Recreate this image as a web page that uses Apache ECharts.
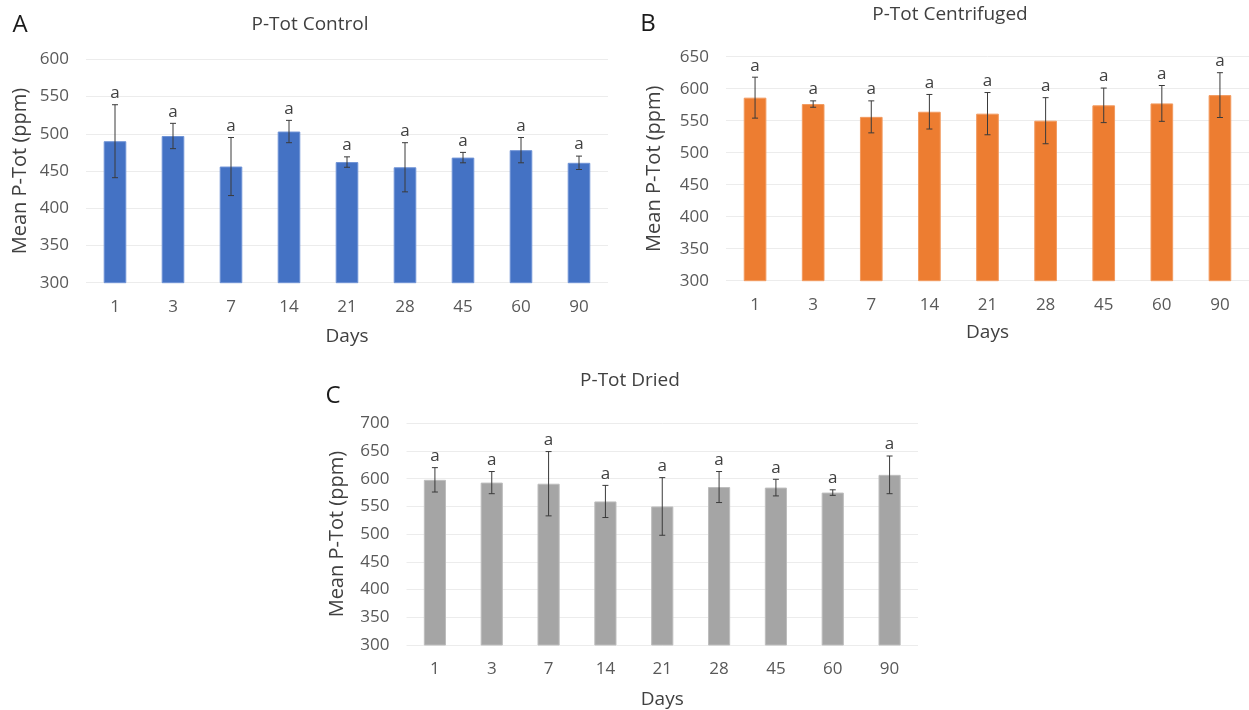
<!DOCTYPE html>
<html>
<head>
<meta charset="utf-8">
<script src="https://cdn.jsdelivr.net/npm/echarts@6/dist/echarts.min.js"></script>
<style>
  html, body { margin: 0; padding: 0; background: #ffffff; }
  #chart { width: 1249px; height: 710px; }
</style>
</head>
<body>
<div id="chart"></div>
<script>
// Sampling days (x categories shared by all three panels)
const days = ['1', '3', '7', '14', '21', '28', '45', '60', '90'];

// Panel A: P-Tot Control (mean and error, ppm)
const controlMean = [490, 497, 456, 503, 462, 455, 468, 478, 461];
const controlErr  = [49, 17, 39, 15, 7, 33, 7, 17, 9];
const controlLetters = ['a', 'a', 'a', 'a', 'a', 'a', 'a', 'a', 'a'];

// Panel B: P-Tot Centrifuged
const centrifugedMean = [586, 576, 556, 564, 561, 550, 574, 577, 590];
const centrifugedErr  = [32, 5, 25, 27, 33, 36, 27, 28, 35];
const centrifugedLetters = ['a', 'a', 'a', 'a', 'a', 'a', 'a', 'a', 'a'];

// Panel C: P-Tot Dried
const driedMean = [598, 593, 591, 559, 550, 585, 584, 575, 607];
const driedErr  = [22, 20, 58, 29, 52, 28, 15, 5, 34];
const driedLetters = ['a', 'a', 'a', 'a', 'a', 'a', 'a', 'a', 'a'];

// Y-axis ranges per panel
const yRanges = [[300, 600], [300, 650], [300, 700]];
const yStep = 50;

const FONT = '"Open Sans", "Noto Sans", sans-serif';
const TICK_COLOR = '#595959';
const NAME_COLOR = '#404040';

const panels = [
  { title: 'P-Tot Control', letter: 'A', mean: controlMean, err: controlErr, letters: controlLetters,
    color: '#4472C4', border: '#6f93d6',
    grid: { left: 86, top: 59.3, width: 522, height: 223.4 }, yNameGap: 56, xNameGap: 44,
    titlePos: [310, 25], letterPos: [20, 25] },
  { title: 'P-Tot Centrifuged', letter: 'B', mean: centrifugedMean, err: centrifugedErr, letters: centrifugedLetters,
    color: '#ED7D31', border: '#f29a5f',
    grid: { left: 726, top: 56.7, width: 525, height: 224 }, yNameGap: 62, xNameGap: 42,
    titlePos: [950, 15], letterPos: [648, 24] },
  { title: 'P-Tot Dried', letter: 'C', mean: driedMean, err: driedErr, letters: driedLetters,
    color: '#A5A5A5', border: '#bdbdbd',
    grid: { left: 406.5, top: 423.3, width: 511.5, height: 223.4 }, yNameGap: 59, xNameGap: 45,
    titlePos: [630, 381], letterPos: [333, 396] }
];

const grids = [], xAxes = [], yAxes = [], series = [], graphics = [];

panels.forEach((p, i) => {
  grids.push(Object.assign({ containLabel: false }, p.grid));

  xAxes.push({
    type: 'category', gridIndex: i, data: days,
    name: 'Days', nameLocation: 'middle', nameGap: p.xNameGap,
    nameTextStyle: { fontFamily: FONT, fontSize: 19, color: NAME_COLOR },
    axisLine: { show: false }, axisTick: { show: false },
    axisLabel: { fontFamily: FONT, fontSize: 17, color: TICK_COLOR, margin: 16 }
  });

  yAxes.push({
    type: 'value', gridIndex: i, min: yRanges[i][0], max: yRanges[i][1], interval: yStep,
    name: 'Mean P-Tot (ppm)', nameLocation: 'middle', nameGap: p.yNameGap, nameRotate: 90,
    nameTextStyle: { fontFamily: FONT, fontSize: 20, color: NAME_COLOR },
    axisLine: { show: false }, axisTick: { show: false },
    axisLabel: { fontFamily: FONT, fontSize: 17, color: TICK_COLOR, margin: 17 },
    splitLine: { lineStyle: { color: '#ececec', width: 1 } }
  });

  series.push({
    type: 'bar', xAxisIndex: i, yAxisIndex: i, barWidth: '39%',
    data: p.mean,
    itemStyle: { color: p.color, borderColor: p.border, borderWidth: 1 },
    silent: true, z: 2
  });

  // Error bars with caps, plus the significance letter above each bar
  series.push({
    type: 'custom', xAxisIndex: i, yAxisIndex: i, z: 3, silent: true,
    data: p.mean.map((m, k) => [k, m, p.err[k]]),
    encode: { x: 0, y: 1 },
    renderItem: function (params, api) {
      const k = api.value(0);
      const m = api.value(1);
      const e = api.value(2);
      const hi = api.coord([k, m + e]);
      const lo = api.coord([k, m - e]);
      const cap = 3;
      const style = { stroke: '#3a3a3a', lineWidth: 1 };
      const letter = p.letters[params.dataIndex];
      return {
        type: 'group',
        children: [
          { type: 'line', shape: { x1: hi[0], y1: hi[1], x2: lo[0], y2: lo[1] }, style: style },
          { type: 'line', shape: { x1: hi[0] - cap, y1: hi[1], x2: hi[0] + cap, y2: hi[1] }, style: style },
          { type: 'line', shape: { x1: lo[0] - cap, y1: lo[1], x2: lo[0] + cap, y2: lo[1] }, style: style },
          { type: 'text', x: hi[0], y: hi[1] - 3,
            style: { text: letter, fill: NAME_COLOR, font: '17px ' + FONT, align: 'center', verticalAlign: 'bottom' } }
        ]
      };
    }
  });

  graphics.push({
    type: 'text', x: p.titlePos[0], y: p.titlePos[1],
    style: { text: p.title, fill: NAME_COLOR, font: '19px ' + FONT, align: 'center', verticalAlign: 'middle' }
  });
  graphics.push({
    type: 'text', x: p.letterPos[0], y: p.letterPos[1],
    style: { text: p.letter, fill: '#1a1a1a', font: '24px ' + FONT, align: 'center', verticalAlign: 'middle' }
  });
});

const chart = echarts.init(document.getElementById('chart'), null, { renderer: 'canvas' });
chart.setOption({
  backgroundColor: '#ffffff',
  animation: false,
  grid: grids,
  xAxis: xAxes,
  yAxis: yAxes,
  series: series,
  graphic: graphics
});
</script>
</body>
</html>
